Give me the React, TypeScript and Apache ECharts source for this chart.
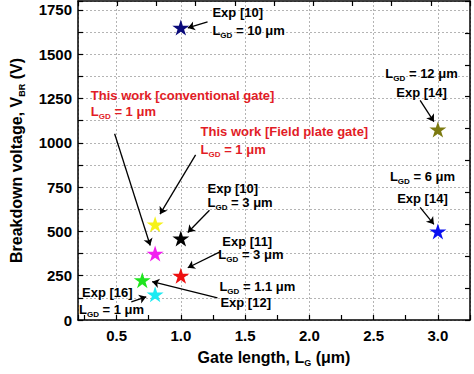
import React, { useEffect, useRef } from "react";
import * as echarts from "echarts";

// ---- data ----
const gateLength = [1.0, 3.0, 3.0, 0.8, 1.0, 0.8, 1.0, 0.7, 0.8];
const breakdownV = [1650, 1075, 500, 540, 460, 375, 250, 225, 145];
const starColors = ["#0a0a7a", "#7c7a10", "#0a10f0", "#f6f21a", "#000000", "#f21ef0", "#ee1010", "#1ee41e", "#1eeaf2"];

const xTickLabels = ["0.5", "1.0", "1.5", "2.0", "2.5", "3.0"];
const yTickLabels = ["0", "250", "500", "750", "1000", "1250", "1500", "1750"];

const RED = "#e21c26";
const BLK = "#000000";

// annotation texts (position in data units)
const noteText = [
  "This work [conventional gate]", "L|GD| = 1 μm",
  "This work [Field plate gate]", "L|GD| = 1 μm",
  "Exp [10]", "L|GD| = 10 μm",
  "Exp [10]", "L|GD| = 3 μm",
  "Exp [11]", "L|GD| = 3 μm",
  "L|GD| = 1.1 μm", "Exp [12]",
  "Exp [16]", "L|GD| = 1 μm",
  "L|GD| = 12 μm", "Exp [14]",
  "L|GD| = 6 μm", "Exp [14]",
];
const noteX = [0.3, 0.3, 1.154, 1.154, 1.246, 1.246, 1.208, 1.208, 1.323, 1.292, 1.3, 1.308, 0.231, 0.208, 2.873, 2.873, 2.88, 2.88];
const noteY = [1267, 1176, 1062, 960, 1733, 1636, 744, 665, 443, 369, 188, 97, 153, 62, 1392, 1284, 807, 688];
const noteAlign = ["left", "left", "left", "left", "left", "left", "left", "left", "left", "left", "left", "left", "left", "left", "center", "center", "center", "center"];
const noteColor = [RED, RED, RED, RED, BLK, BLK, BLK, BLK, BLK, BLK, BLK, BLK, BLK, BLK, BLK, BLK, BLK, BLK];

// arrows: [from, to] in data units
const arrows = [
  [[0.485, 1051], [0.762, 420]],
  [[1.115, 932], [0.838, 597]],
  [[1.208, 1682], [1.054, 1648]],
  [[1.223, 619], [1.054, 494]],
  [[1.308, 386], [1.054, 295]],
  [[1.285, 125], [0.777, 216]],
  [[0.615, 102], [0.731, 131]],
  [[2.862, 1239], [2.969, 1119]],
  [[2.862, 636], [2.969, 540]],
];

const FONT = '"Liberation Sans", Arial, sans-serif';
const STAR = "path://M50,0 L61.2,34.5 L97.6,34.5 L68.2,55.9 L79.4,90.5 L50,69.1 L20.6,90.5 L31.8,55.9 L2.4,34.5 L38.8,34.5 Z";

function toRich(t: string) {
  const parts = t.split("|");
  return parts.map((p, i) => (i % 2 === 1 ? `{s|${p}}` : `{n|${p}}`)).join("");
}

export default function App() {
  const ref = useRef<HTMLDivElement>(null);
  useEffect(() => {
    if (!ref.current) return;
    const chart = echarts.init(ref.current, null, { renderer: "svg" });
    const axisLine = { show: true, onZero: false, lineStyle: { color: "#000", width: 1.5 } };
    const tick = { show: true, inside: true, length: 5, lineStyle: { color: "#000", width: 1.2 } };
    const split = { show: true, lineStyle: { color: "#b4b4b4", width: 1, type: [2, 2] } };
    const tickFont = { fontSize: 15, fontWeight: "bold", color: "#000", fontFamily: FONT };
    const nameRich = {
      n: { fontSize: 16, fontWeight: "bold", fontFamily: FONT, color: "#000", lineHeight: 20 },
      s: { fontSize: 9, fontWeight: "bold", fontFamily: FONT, color: "#000", lineHeight: 9, verticalAlign: "bottom" },
    };
    chart.setOption({
      animation: false,
      grid: { left: 74, right: 4, top: 1, bottom: 54 },
      xAxis: [
        {
          type: "value", position: "bottom", min: 0.2, max: 3.25, splitNumber: 5,
          axisLine, axisTick: { show: false }, splitLine: split,
          axisLabel: {
            ...tickFont, margin: 8,
            formatter: (v: number) => {
              const k = Math.round(v * 2);
              return Math.abs(v * 2 - k) < 1e-6 && k >= 1 && k <= 6 ? xTickLabels[k - 1] : "";
            },
          },
          name: "{n|Gate length, L}{s|G}{n| (μm)}",
          nameLocation: "middle", nameGap: 27, nameTextStyle: { rich: nameRich },
        },
        {
          type: "value", position: "bottom", inverse: true, min: 0, max: 3.05, interval: 0.25,
          axisLine: { show: false }, axisTick: tick, axisLabel: { show: false }, splitLine: { show: false },
        },
        {
          type: "value", position: "top", min: 0, max: 10, interval: 1,
          axisLine, axisTick: tick, axisLabel: { show: false }, splitLine: { show: false },
        },
      ],
      yAxis: [
        {
          type: "value", position: "left", min: 0, max: 1800, interval: 125,
          axisLine, axisTick: tick, splitLine: split,
          axisLabel: {
            ...tickFont, margin: 6,
            formatter: (v: number) => {
              const k = Math.round(v / 250);
              return Math.abs(v - k * 250) < 1e-6 && k <= 7 ? yTickLabels[k] : "";
            },
          },
          name: "{n|Breakdown voltage, V}{s|BR}{n| (V)}",
          nameLocation: "middle", nameGap: 52, nameRotate: 90, nameTextStyle: { rich: nameRich },
        },
        {
          type: "value", position: "right", min: 0, max: 10, interval: 1,
          axisLine, axisTick: tick, axisLabel: { show: false }, splitLine: { show: false },
        },
      ],
      series: [
        {
          type: "scatter", xAxisIndex: 0, yAxisIndex: 0, symbol: STAR, symbolSize: [17, 16], z: 3,
          itemStyle: { opacity: 1 },
          data: gateLength.map((x, i) => ({ value: [x, breakdownV[i]], itemStyle: { color: starColors[i], opacity: 1 } })),
        },
        {
          type: "lines", coordinateSystem: "cartesian2d", xAxisIndex: 0, yAxisIndex: 0, z: 4,
          symbol: ["none", "arrow"], symbolSize: 7,
          lineStyle: { color: "#000", width: 1.3, opacity: 1 },
          data: arrows.map((c) => ({ coords: c })),
        },
        {
          type: "custom", xAxisIndex: 0, yAxisIndex: 0, z: 5, clip: false,
          data: noteX.map((x, i) => [x, noteY[i]]),
          renderItem: (params: any, api: any) => {
            const i = params.dataIndex;
            const p = api.coord([noteX[i], noteY[i]]);
            const c = noteColor[i];
            return {
              type: "text", x: p[0], y: p[1],
              style: {
                text: toRich(noteText[i]),
                align: noteAlign[i], verticalAlign: "middle",
                fill: c, font: `bold 13px ${FONT}`,
                rich: {
                  n: { fontSize: 13, fontWeight: "bold", fontFamily: FONT, fill: c, lineHeight: 18 },
                  s: { fontSize: 8, fontWeight: "bold", fontFamily: FONT, fill: c, lineHeight: 8, verticalAlign: "bottom" },
                },
              },
            };
          },
        },
      ],
    });
    return () => chart.dispose();
  }, []);
  return <div ref={ref} style={{ position: "fixed", left: 0, top: 0, width: 474, height: 374, background: "#fff" }} />;
}
